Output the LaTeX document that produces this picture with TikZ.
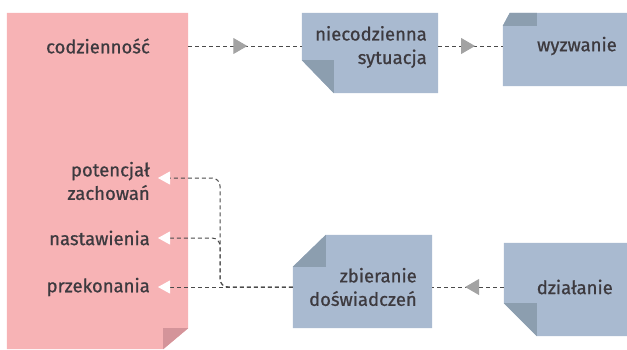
\documentclass[tikz,border=0pt]{standalone}
\usepackage{fontspec}
\setmainfont{Fira Sans}[UprightFeatures={FakeBold=0.8}]
\usetikzlibrary{arrows.meta,decorations.markings}
\definecolor{pinkfill}{HTML}{F7B3B5}
\definecolor{pinkfold}{HTML}{D4949A}
\definecolor{bluefill}{HTML}{A9BAD0}
\definecolor{bluefold}{HTML}{8C9EAF}
\definecolor{txt}{HTML}{3D3A3F}
\definecolor{lin}{HTML}{4A4A4A}
\definecolor{tri}{HTML}{A3A3A3}
\tikzset{
  lbl/.style={text=txt, font=\fontsize{18.5}{23.5}\selectfont, inner sep=0pt, align=right, anchor=east},
  frame/.style={inner sep=0pt, draw=none},
  conn/.style={draw=lin, line width=1pt, dash pattern=on 4pt off 3pt},
  midtri/.style={postaction={decorate}, decoration={markings,
     mark=at position #1 with {\arrow{Triangle[length=14pt,width=16pt,color=tri]}}}},
  endtri/.style={-{Triangle[length=12pt,width=13pt,color=white]}}
}
\begin{document}
\begin{tikzpicture}[x=1pt,y=-1pt]
\useasboundingbox (0,0) rectangle (627,349);
% frames
\node[frame, minimum width=181pt, minimum height=336pt] (pink) at (97.5,181) {};
\node[frame, minimum width=136pt, minimum height=80pt] (nbox) at (370,53) {};
\node[frame, minimum width=124pt, minimum height=73pt] (wbox) at (565,49.5) {};
\node[frame, minimum width=139pt, minimum height=93pt] (zbox) at (362.5,281.5) {};
\node[frame, minimum width=123pt, minimum height=93pt] (dbox) at (565.5,289.5) {};
% shapes
\fill[pinkfill] (pink.north west) -- (pink.north east) -- ([yshift=21pt]pink.south east) -- ([xshift=-25pt]pink.south east) -- (pink.south west) -- cycle;
\fill[pinkfold] ([yshift=21pt]pink.south east) -- ([xshift=-25pt,yshift=21pt]pink.south east) -- ([xshift=-25pt]pink.south east) -- cycle;
\fill[bluefill] (nbox.north west) -- (nbox.north east) -- (nbox.south east) -- ([xshift=32pt]nbox.south west) -- ([yshift=33pt]nbox.south west) -- cycle;
\fill[bluefold] ([yshift=33pt]nbox.south west) -- ([xshift=32pt,yshift=33pt]nbox.south west) -- ([xshift=32pt]nbox.south west) -- cycle;
\fill[bluefill] ([xshift=7pt]wbox.north west) -- (wbox.north east) -- (wbox.south east) -- (wbox.south west) -- ([yshift=-13pt]wbox.north west) -- cycle;
\fill[bluefold] ([xshift=7pt]wbox.north west) -- ([xshift=34pt]wbox.north west) -- ([xshift=34pt,yshift=-13pt]wbox.north west) -- ([yshift=-13pt]wbox.north west) -- cycle;
\fill[bluefill] ([xshift=33pt]zbox.north west) -- (zbox.north east) -- (zbox.south east) -- (zbox.south west) -- ([yshift=-32pt]zbox.north west) -- cycle;
\fill[bluefold] ([xshift=33pt]zbox.north west) -- ([xshift=33pt,yshift=-32pt]zbox.north west) -- ([yshift=-32pt]zbox.north west) -- cycle;
\fill[bluefill] (dbox.north west) -- (dbox.north east) -- (dbox.south east) -- ([xshift=33pt]dbox.south west) -- ([yshift=33pt]dbox.south west) -- cycle;
\fill[bluefold] ([yshift=33pt]dbox.south west) -- ([xshift=33pt,yshift=33pt]dbox.south west) -- ([xshift=33pt]dbox.south west) -- cycle;
% texts
\node[lbl] (codz) at (150,46) {codzienność};
\node[lbl] (niec) at (427,47) {niecodzienna\\sytuacja};
\node[lbl] (wyzw) at (617,46) {wyzwanie};
\node[lbl] (pot) at (150,181) {potencjał\\zachowań};
\node[lbl] (nast) at (150,238) {nastawienia};
\node[lbl] (przek) at (150,287) {przekonania};
\node[lbl] (zbier) at (417,287) {zbieranie\\doświadczeń};
\node[lbl] (dzial) at (613,287) {działanie};
\coordinate (jn) at (220,287);
% connectors
\draw[conn, midtri=0.52] (pink.east |- codz.center) -- (nbox.west |- codz.center);
\draw[conn, midtri=0.57] (nbox.east |- codz.center) -- (wbox.west |- codz.center);
\draw[conn, midtri=0.54] (dbox.west |- przek.center) -- (zbox.east |- przek.center);
\draw[conn, endtri] (zbox.west |- przek.center) -- ([xshift=8pt]przek.east);
\draw[conn, endtri, rounded corners=8pt] (zbox.west |- przek.center) -- (jn) |- ([xshift=8pt,yshift=3pt]pot.east);
\draw[conn, endtri, rounded corners=8pt] (zbox.west |- przek.center) -- (jn) |- ([xshift=8pt]nast.east);
\end{tikzpicture}
\end{document}
